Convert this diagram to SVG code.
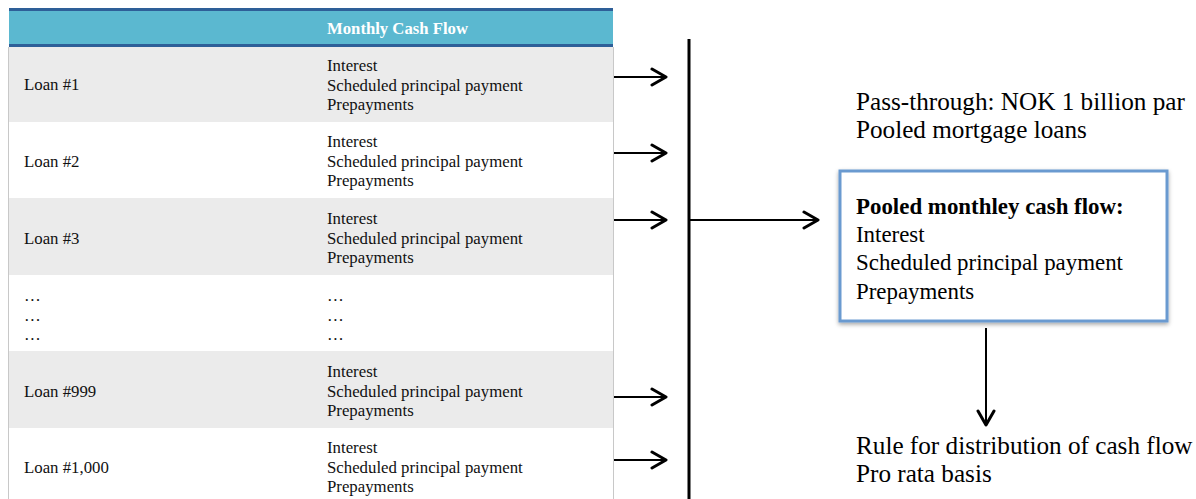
<svg xmlns="http://www.w3.org/2000/svg" width="1196" height="499" viewBox="0 0 1196 499">
<defs>
<marker id="chev" viewBox="0 0 20 20" refX="17" refY="10" markerWidth="20" markerHeight="20" markerUnits="userSpaceOnUse" orient="auto">
<path d="M3,2 L17,10 L3,18" fill="none" stroke="#000" stroke-width="3" stroke-linecap="round" stroke-linejoin="round"/>
</marker>
<filter id="sh" x="-10%" y="-10%" width="120%" height="130%">
<feDropShadow dx="0" dy="2" stdDeviation="2" flood-color="#000" flood-opacity="0.35"/>
</filter>
</defs>
<style>
.t{font-family:"Liberation Serif","Times New Roman",serif;font-size:16.8px;fill:#111}
.h{font-family:"Liberation Serif","Times New Roman",serif;font-size:16.7px;font-weight:bold;fill:#fff}
.b{font-family:"Liberation Serif","Times New Roman",serif;font-size:25.2px;fill:#000}
.bb{font-family:"Liberation Serif","Times New Roman",serif;font-size:22.9px;fill:#000}
.g{fill:#ebebeb}
.c{stroke:#000;stroke-width:2;fill:none}
</style>
<rect width="1196" height="499" fill="#fff"/>
<g id="table">
<rect x="9" y="10" width="604" height="35" fill="#5bb8d0"/>
<rect x="9" y="8" width="604" height="3" fill="#2e5f98"/>
<rect x="9" y="44" width="604" height="3" fill="#2e5f98"/>
<rect class="g" x="9" y="47" width="604" height="75"/>
<rect class="g" x="9" y="198" width="604" height="77"/>
<rect class="g" x="9" y="351" width="604" height="77"/>
<line x1="8.5" y1="47" x2="8.5" y2="499" stroke="#c8c8c8" stroke-width="1"/>
<line x1="613.5" y1="47" x2="613.5" y2="499" stroke="#c8c8c8" stroke-width="1"/>
<text class="h" x="327" y="34">Monthly Cash Flow</text>
<text class="t" x="24" y="90">Loan #1</text>
<text class="t" x="327" y="71">Interest</text>
<text class="t" x="327" y="91">Scheduled principal payment</text>
<text class="t" x="327" y="110">Prepayments</text>
<text class="t" x="24" y="167">Loan #2</text>
<text class="t" x="327" y="147">Interest</text>
<text class="t" x="327" y="167">Scheduled principal payment</text>
<text class="t" x="327" y="186">Prepayments</text>
<text class="t" x="24" y="244">Loan #3</text>
<text class="t" x="327" y="224">Interest</text>
<text class="t" x="327" y="244">Scheduled principal payment</text>
<text class="t" x="327" y="263">Prepayments</text>
<text class="t" x="24" y="301">…</text>
<text class="t" x="24" y="321">…</text>
<text class="t" x="24" y="340">…</text>
<text class="t" x="327" y="301">…</text>
<text class="t" x="327" y="321">…</text>
<text class="t" x="327" y="340">…</text>
<text class="t" x="24" y="397">Loan #999</text>
<text class="t" x="327" y="377">Interest</text>
<text class="t" x="327" y="397">Scheduled principal payment</text>
<text class="t" x="327" y="416">Prepayments</text>
<text class="t" x="24" y="473">Loan #1,000</text>
<text class="t" x="327" y="453">Interest</text>
<text class="t" x="327" y="473">Scheduled principal payment</text>
<text class="t" x="327" y="492">Prepayments</text>
</g>
<g id="connectors">
<line class="c" x1="614" y1="77" x2="666" y2="77" marker-end="url(#chev)"/>
<line class="c" x1="614" y1="153" x2="666" y2="153" marker-end="url(#chev)"/>
<line class="c" x1="614" y1="220" x2="666" y2="220" marker-end="url(#chev)"/>
<line class="c" x1="614" y1="397" x2="666" y2="397" marker-end="url(#chev)"/>
<line class="c" x1="614" y1="460" x2="666" y2="460" marker-end="url(#chev)"/>
<line x1="689" y1="39" x2="689" y2="499" stroke="#000" stroke-width="3"/>
<line class="c" x1="689" y1="220" x2="818" y2="220" marker-end="url(#chev)"/>
<line class="c" x1="986" y1="328" x2="986" y2="425" marker-end="url(#chev)"/>
</g>
<g id="pass-through">
<text class="b" x="856" y="110">Pass-through: NOK 1 billion par</text>
<text class="b" x="856" y="138">Pooled mortgage loans</text>
</g>
<g id="pooled-box">
<rect x="840" y="171" width="327" height="150" fill="#fff" stroke="#6a9ad0" stroke-width="3" filter="url(#sh)"/>
<text class="bb" x="856" y="214" font-weight="bold">Pooled monthley cash flow:</text>
<text class="bb" x="856" y="242">Interest</text>
<text class="bb" x="856" y="270">Scheduled principal payment</text>
<text class="bb" x="856" y="299">Prepayments</text>
</g>
<g id="rule">
<text class="b" x="856" y="454">Rule for distribution of cash flow</text>
<text class="b" x="856" y="482">Pro rata basis</text>
</g>
</svg>
